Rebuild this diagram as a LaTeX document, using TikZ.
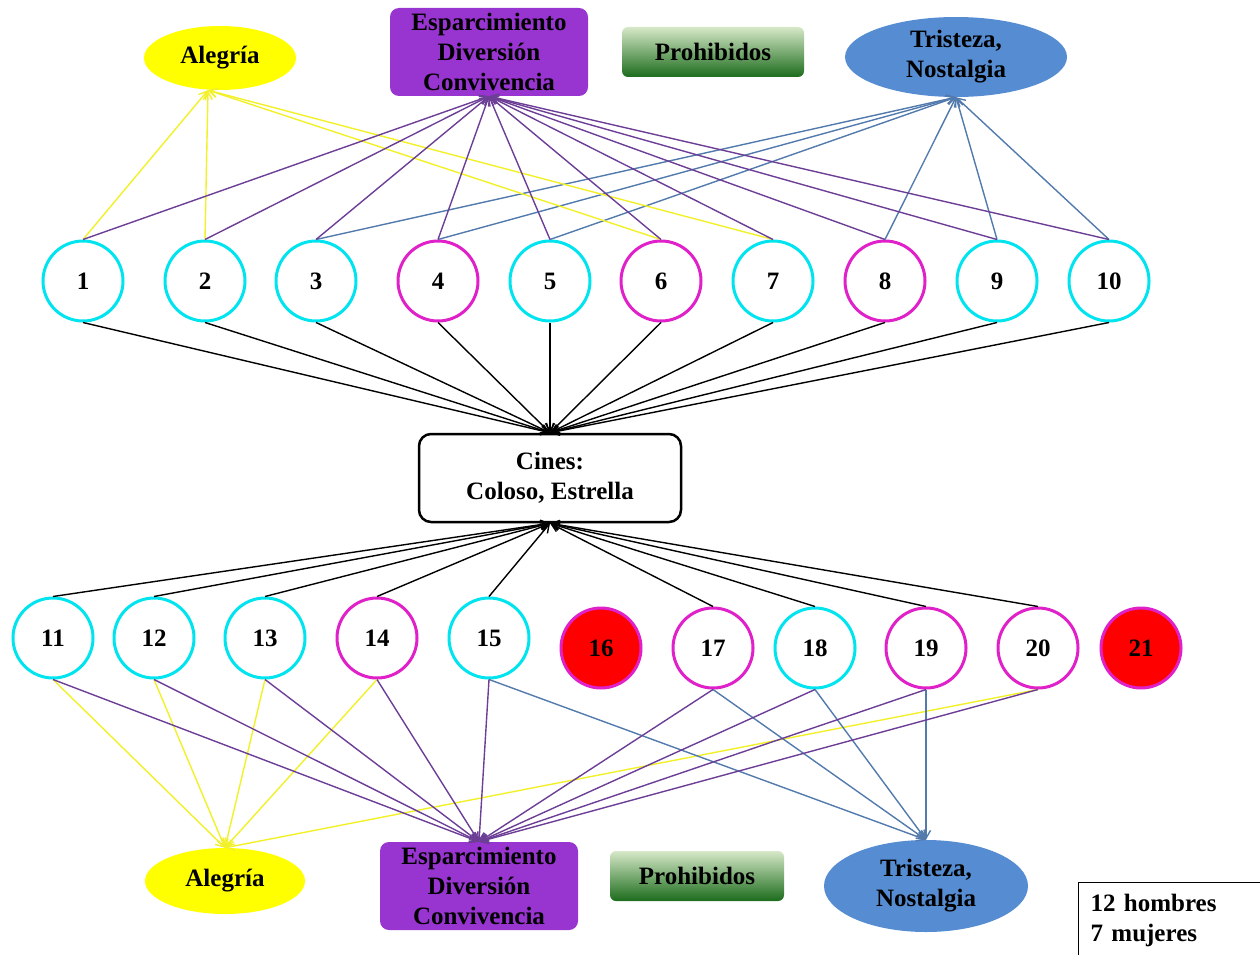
\documentclass[tikz,border=0pt]{standalone}
\usepackage{fontspec}
\setmainfont{Liberation Serif}
\usetikzlibrary{shapes.geometric,arrows.meta,shadings}
\definecolor{cyanC}{RGB}{0,228,240}
\definecolor{magC}{RGB}{224,32,200}
\definecolor{redF}{RGB}{255,0,0}
\definecolor{yelF}{RGB}{255,255,0}
\definecolor{yelL}{RGB}{242,240,40}
\definecolor{purF}{RGB}{152,52,208}
\definecolor{purL}{RGB}{108,62,150}
\definecolor{bluF}{RGB}{86,140,210}
\definecolor{bluL}{RGB}{82,122,172}
\definecolor{grnT}{RGB}{214,232,200}
\definecolor{grnB}{RGB}{28,108,28}
\begin{document}
\begin{tikzpicture}[x=1pt,y=-1pt,
  font=\fontsize{25}{30}\selectfont\bfseries,
  pers/.style={circle, line width=3pt, minimum size=80pt, inner sep=0pt, fill=white},
  man/.style={pers, draw=cyanC},
  woman/.style={pers, draw=magC},
  absent/.style={pers, draw=magC, fill=redF},
  alegria/.style={ellipse, fill=yelF, minimum width=152pt, minimum height=64pt, inner sep=0pt},
  espbox/.style={rectangle, rounded corners=9pt, fill=purF, minimum width=198pt, minimum height=88pt, inner sep=0pt, align=center},
  prohbox/.style={rectangle, rounded corners=6pt, top color=grnT, bottom color=grnB, minimum height=50pt, inner sep=0pt},
  trist/.style={ellipse, fill=bluF, inner sep=0pt, align=center},
  cinesbox/.style={rectangle, rounded corners=12pt, draw=black, line width=2.5pt, minimum width=262pt, minimum height=88pt, inner sep=0pt, align=center},
  legendbox/.style={rectangle, draw=black, line width=1.2pt, anchor=north west, align=left, inner xsep=12pt, inner ysep=12pt, text width=200pt},
  arr/.style={-{Straight Barb[length=8pt,width=9pt]}, line width=1.4pt},
  blk/.style={arr, draw=black},
  ylw/.style={arr, draw=yelL},
  pur/.style={arr, draw=purL},
  blu/.style={arr, draw=bluL}]
\useasboundingbox (0,0) rectangle (1260,955);
\clip (0,0) rectangle (1260,955);

% top categories
\node[alegria] (alegT) at (220,58) {Alegría};
\node[espbox] (espT) at (489,52) {Esparcimiento\\Diversión\\Convivencia};
\node[prohbox, minimum width=182pt] (prohT) at (713,52) {Prohibidos};
\node[trist, minimum width=222pt, minimum height=80pt] (tristT) at (956,57) {Tristeza,\\Nostalgia};

% top people
\node[man]   (c1)  at (83,281)   {1};
\node[man]   (c2)  at (205,281)  {2};
\node[man]   (c3)  at (316,281)  {3};
\node[woman] (c4)  at (438,281)  {4};
\node[man]   (c5)  at (550,281)  {5};
\node[woman] (c6)  at (661,281)  {6};
\node[man]   (c7)  at (773,281)  {7};
\node[woman] (c8)  at (885,281)  {8};
\node[man]   (c9)  at (997,281)  {9};
\node[man]   (c10) at (1109,281) {10};

% cines
\node[cinesbox] (cines) at (550,478) {Cines:\\Coloso, Estrella};

% bottom people
\node[man]    (c11) at (53,638)   {11};
\node[man]    (c12) at (154,638)  {12};
\node[man]    (c13) at (265,638)  {13};
\node[woman]  (c14) at (377,638)  {14};
\node[man]    (c15) at (489,638)  {15};
\node[absent] (c16) at (601,648)  {16};
\node[woman]  (c17) at (713,648)  {17};
\node[man]    (c18) at (815,648)  {18};
\node[woman]  (c19) at (926,648)  {19};
\node[woman]  (c20) at (1038,648) {20};
\node[absent] (c21) at (1141,648) {21};

% bottom categories
\node[alegria, minimum width=160pt, minimum height=66pt] (alegB) at (225,881) {Alegría};
\node[espbox] (espB) at (479,886) {Esparcimiento\\Diversión\\Convivencia};
\node[prohbox, minimum width=174pt] (prohB) at (697,876) {Prohibidos};
\node[trist, minimum width=204pt, minimum height=92pt] (tristB) at (926,886) {Tristeza,\\Nostalgia};

% legend
\node[legendbox] (leg) at (1078,882) {12 hombres\\7 mujeres};

% top connectors
\foreach \i in {1,...,10} \draw[blk] (c\i.south) -- (cines.north);
\foreach \i in {3,4,5,8,9,10} \draw[blu] (c\i.north) -- (tristT.south);
\foreach \i in {1,2,6,7} \draw[ylw] (c\i.north) -- ([xshift=-12pt]alegT.south);
\foreach \i in {1,...,10} \draw[pur] (c\i.north) -- (espT.south);

% bottom connectors
\foreach \i in {11,12,13,14,15,17,18,19,20} \draw[blk] (c\i.north) -- (cines.south);
\foreach \i in {11,12,13,14,20} \draw[ylw] (c\i.south) -- (alegB.north);
\foreach \i in {15,17,18,19} \draw[blu] (c\i.south) -- (tristB.north);
\foreach \i in {11,12,13,14,15,17,18,19,20} \draw[pur] (c\i.south) -- (espB.north);
\end{tikzpicture}
\end{document}
